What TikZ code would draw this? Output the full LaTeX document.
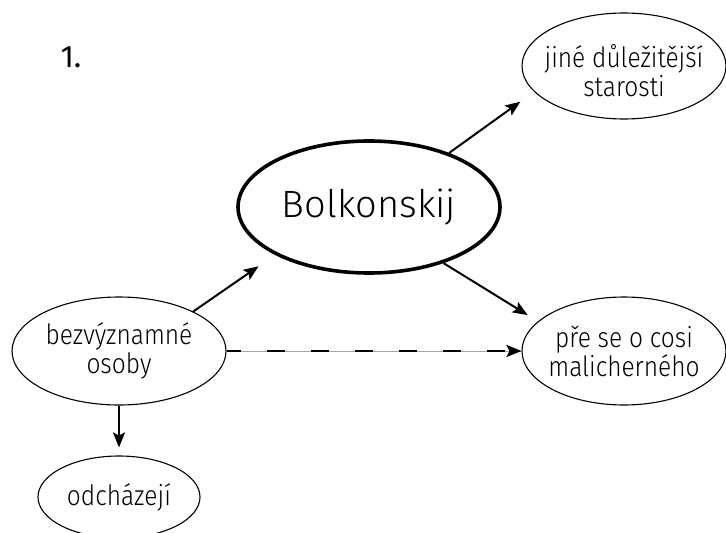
\documentclass[tikz,border=0pt]{standalone}
\usepackage{fontspec}
\setmainfont{Fira Sans}[UprightFont={* Light},FakeStretch=0.875]
\newfontfamily\bigfont{Fira Sans}[UprightFont={* Light}]
\newfontfamily\numfont{Fira Sans}
\usetikzlibrary{shapes.geometric,arrows.meta}
\begin{document}
\begin{tikzpicture}[x=1pt,y=-1pt,
  bubble/.style={ellipse,draw,line width=1.1pt,inner xsep=-14pt,inner ysep=0pt,align=center,font=\fontsize{28}{29}\selectfont},
  arr/.style={line width=2pt,-{Stealth[length=15pt,width=12pt,inset=3pt]}}]
\useasboundingbox (0,0) rectangle (726,533);
\node[anchor=base west,font=\numfont\fontsize{31}{33}\selectfont] (num) at (57,67) {1.};
\node[bubble,line width=3.6pt,minimum width=262pt,minimum height=132pt,font=\bigfont\fontsize{38}{40}\selectfont] (bolk) at (369,207) {Bolkonskij};
\node[bubble,minimum width=204pt,minimum height=106pt,
  label={[align=center,yshift=-5pt,font=\fontsize{28}{29}\selectfont]center:jiné důležitější\\starosti}] (jine) at (624,66) {};
\node[bubble,minimum width=204pt,minimum height=108pt] (pre) at (624,351) {pře se o cosi\\malicherného};
\node[bubble,minimum width=214pt,minimum height=108pt] (bezv) at (119,351) {bezvýznamné\\osoby};
\node[bubble,minimum width=162pt,minimum height=82pt] (odch) at (119,497) {odcházejí};
\draw[arr,shorten >=17pt] (bolk.34) -- (jine.196);
\draw[arr,shorten >=20pt] (bezv.28) -- (bolk.207);
\draw[arr,shorten >=12pt] (bolk.-37) -- (pre.161);
\draw[line width=0.6pt,black!35] (bezv.east) -- (pre.west);
\draw[arr,dash pattern=on 18pt off 26pt,dash phase=4pt] (bezv.east) -- (pre.west);
\draw[arr,shorten >=8pt] (bezv.south) -- (odch.north);
\end{tikzpicture}
\end{document}
